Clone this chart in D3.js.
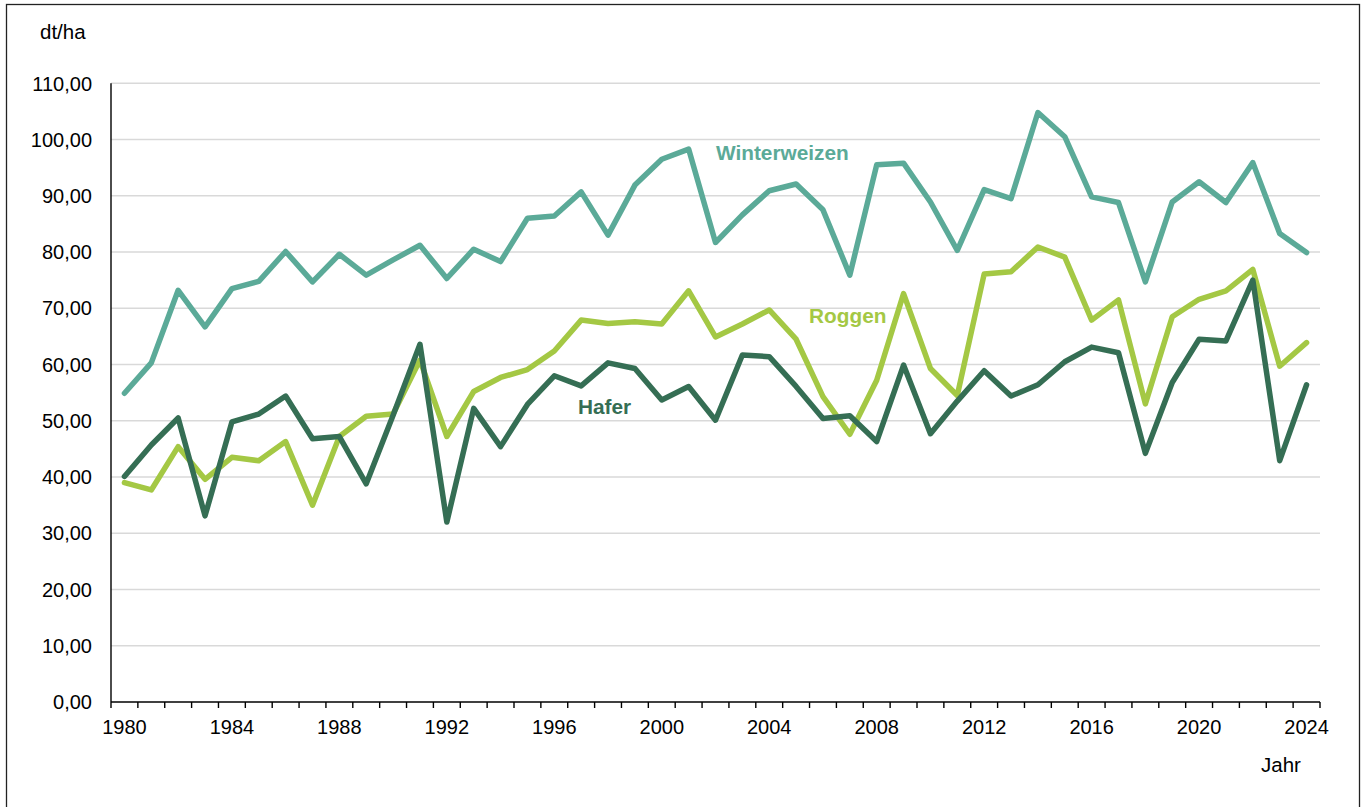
<!DOCTYPE html>
<html>
<head>
<meta charset="utf-8">
<script src="https://cdn.jsdelivr.net/npm/d3@7"></script>
<style>
  html, body { margin: 0; padding: 0; background: #fff; }
  svg { display: block; font-family: "Liberation Sans", Arial, sans-serif; }
</style>
</head>
<body>
<svg id="chart" width="1365" height="807"></svg>
<script>
const years = d3.range(1980, 2025);
const tickYears = [1980, 1984, 1988, 1992, 1996, 2000, 2004, 2008, 2012, 2016, 2020, 2024];
const yTicks = [0, 10, 20, 30, 40, 50, 60, 70, 80, 90, 100, 110];

const winterweizen = [54.9, 60.3, 73.2, 66.7, 73.5, 74.8, 80.1, 74.7, 79.6, 75.9,
  78.6, 81.2, 75.3, 80.5, 78.3, 86.0, 86.4, 90.7, 83.0, 91.9,
  96.5, 98.3, 81.7, 86.6, 90.9, 92.1, 87.5, 75.9, 95.5, 95.8,
  88.9, 80.3, 91.1, 89.5, 104.8, 100.5, 89.8, 88.8, 74.7, 88.9,
  92.5, 88.8, 95.9, 83.3, 79.9];
const roggen = [39.0, 37.7, 45.4, 39.6, 43.5, 42.9, 46.3, 35.0, 47.2, 50.8,
  51.2, 60.8, 47.2, 55.2, 57.7, 59.1, 62.4, 67.9, 67.3, 67.6,
  67.2, 73.1, 64.9, 67.2, 69.7, 64.5, 54.3, 47.6, 57.2, 72.6,
  59.3, 54.5, 76.1, 76.5, 80.9, 79.1, 67.9, 71.5, 53.0, 68.5,
  71.6, 73.1, 76.9, 59.7, 63.9];
const hafer = [40.1, 45.7, 50.5, 33.1, 49.8, 51.2, 54.4, 46.8, 47.2, 38.8,
  51.0, 63.6, 32.0, 52.2, 45.4, 52.9, 58.0, 56.2, 60.3, 59.3,
  53.7, 56.1, 50.1, 61.7, 61.4, 56.1, 50.4, 50.9, 46.3, 59.9,
  47.7, 53.5, 58.9, 54.4, 56.4, 60.5, 63.1, 62.1, 44.2, 56.8,
  64.5, 64.2, 75.0, 42.9, 56.4];

const seriesNames = ["Winterweizen", "Roggen", "Hafer"];
const seriesColors = ["#5BAA98", "#A4C844", "#356E54"];
const seriesValues = [winterweizen, roggen, hafer];

const svg = d3.select("#chart");
const plotLeft = 111, plotRight = 1320, plotTop = 83.3, plotBottom = 702;

// frame
svg.append("rect").attr("x", 6.5).attr("y", 4.5).attr("width", 1353).attr("height", 820)
  .attr("fill", "none").attr("stroke", "#222").attr("stroke-width", 1.3);

const x = d3.scaleBand().domain(years).range([plotLeft, plotRight]).paddingInner(0).paddingOuter(0);
const xc = d => x(d) + x.bandwidth() / 2;
const y = d3.scaleLinear().domain([0, 110]).range([plotBottom, plotTop]);

// gridlines
svg.append("g").selectAll("line").data(yTicks.filter(t => t > 0)).join("line")
  .attr("x1", plotLeft).attr("x2", plotRight)
  .attr("y1", d => y(d)).attr("y2", d => y(d))
  .attr("stroke", "#D9D9D9").attr("stroke-width", 1.6);

// y axis labels
const fmt = v => d3.format(".2f")(v).replace(".", ",");
svg.append("g").selectAll("text").data(yTicks).join("text")
  .attr("x", 92).attr("y", d => y(d)).attr("dy", "0.36em")
  .attr("text-anchor", "end").attr("font-size", 20).attr("fill", "#000")
  .text(fmt);

// y axis line
svg.append("line").attr("x1", plotLeft).attr("x2", plotLeft).attr("y1", plotTop).attr("y2", plotBottom)
  .attr("stroke", "#000").attr("stroke-width", 1.4);

// x axis
const xAxis = svg.append("g").attr("transform", `translate(0,${plotBottom})`);
xAxis.append("line").attr("x1", plotLeft).attr("x2", plotRight).attr("y1", 0).attr("y2", 0)
  .attr("stroke", "#000").attr("stroke-width", 1.4);
const boundaries = years.map(d => x(d)).concat([plotRight]);
xAxis.selectAll("line.tick").data(boundaries).join("line").attr("class", "tick")
  .attr("x1", d => d).attr("x2", d => d).attr("y1", 0).attr("y2", 6)
  .attr("stroke", "#000").attr("stroke-width", 1.4);
xAxis.selectAll("text").data(tickYears).join("text")
  .attr("x", d => xc(d)).attr("y", 32)
  .attr("text-anchor", "middle").attr("font-size", 20).attr("fill", "#000")
  .text(d => d);

// lines
const line = d3.line().x((d, i) => xc(years[i])).y(d => y(d));
seriesValues.forEach((vals, k) => {
  svg.append("path").datum(vals)
    .attr("d", line)
    .attr("fill", "none")
    .attr("stroke", seriesColors[k])
    .attr("stroke-width", 5.5)
    .attr("stroke-linejoin", "round")
    .attr("stroke-linecap", "round");
});

// series labels
const labelPos = [[716, 160], [809, 323], [578, 414]];
seriesNames.forEach((n, k) => {
  svg.append("text").attr("x", labelPos[k][0]).attr("y", labelPos[k][1])
    .attr("font-size", 20.8).attr("font-weight", "bold")
    .attr("fill", seriesColors[k]).text(n);
});

// axis titles
svg.append("text").attr("x", 40).attr("y", 38.5).attr("font-size", 20.5).attr("fill", "#000").text("dt/ha");
svg.append("text").attr("x", 1261).attr("y", 772).attr("font-size", 20.5).attr("fill", "#000").text("Jahr");
</script>
</body>
</html>
